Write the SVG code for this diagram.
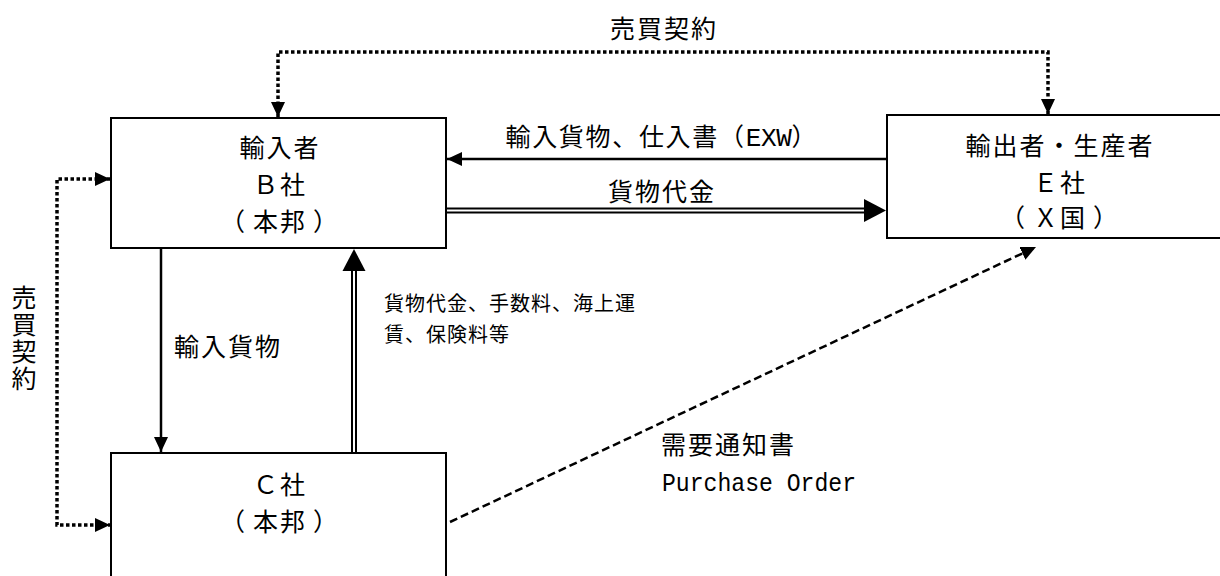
<svg xmlns="http://www.w3.org/2000/svg" width="1220" height="576" viewBox="0 0 1220 576">
<style>
.bg{fill:#fff}
.box{fill:#fff;stroke:#000;stroke-width:2}
.t{font-family:"Noto Sans CJK JP","Noto Sans CJK SC",sans-serif;font-size:25px;letter-spacing:2px;fill:#000}
.ts{font-size:20px;letter-spacing:1px}
.mono{font-family:"Liberation Mono",monospace;letter-spacing:0}
.solid{stroke:#000;stroke-width:2.5;fill:none}
.thin{stroke:#000;stroke-width:2;fill:none}
.dot{stroke:#000;stroke-width:3.5;stroke-dasharray:3.5 2.5;fill:none}
.dash{stroke:#000;stroke-width:2.5;stroke-dasharray:8 4;fill:none}
.head{fill:#000;stroke:none}
</style>
<defs>
<marker id="ah" markerUnits="userSpaceOnUse" viewBox="0 0 15 14" refX="15" refY="7" markerWidth="15" markerHeight="14" orient="auto-start-reverse">
<path d="M0,0 L15,7 L0,14 z" fill="#000"/>
</marker>
<path id="bigHead" d="M0,0 L-22,-11.5 L-22,11.5 z"/>
</defs>
<rect class="bg" x="0" y="0" width="1220" height="576"/>

<g id="connectors">
<path class="dot" d="M278,117 V52 H1048 V114" marker-start="url(#ah)" marker-end="url(#ah)"/>
<path class="dot" d="M110,179 H57 V525 H110" marker-start="url(#ah)" marker-end="url(#ah)"/>
<path class="solid" d="M887,159 H447" marker-end="url(#ah)"/>
<path class="thin" d="M447,208.5 H864 M447,212.5 H864"/>
<use class="head" href="#bigHead" x="886" y="210.5"/>
<path class="solid" d="M161,248 V452" marker-end="url(#ah)"/>
<path class="thin" d="M352,453 V270 M356,453 V270"/>
<use class="head" href="#bigHead" transform="translate(354,249) rotate(-90)"/>
<path class="dash" d="M450,522 L1036,247" marker-end="url(#ah)"/>
<text class="t" x="664" y="38" text-anchor="middle">売買契約</text>
<text class="t" x="25 25 25 25" y="307 334 361 388" text-anchor="middle">売買契約</text>
<text class="t" x="662" y="146" text-anchor="middle" textLength="313" lengthAdjust="spacing">輸入貨物、仕入書（<tspan class="mono" font-size="26">EXW</tspan>）</text>
<text class="t" x="662" y="201" text-anchor="middle">貨物代金</text>
<text class="t" x="228" y="356" text-anchor="middle">輸入貨物</text>
<text class="t ts" x="384" y="311">貨物代金、手数料、海上運</text>
<text class="t ts" x="384" y="342">賃、保険料等</text>
<text class="t" x="661" y="454">需要通知書</text>
<text class="t mono" x="662" y="491" font-size="28" textLength="194" lengthAdjust="spacingAndGlyphs">Purchase Order</text>
</g>

<g id="nodeB">
<rect class="box" x="111" y="118" width="335" height="130"/>
<text class="t" x="280" y="157" text-anchor="middle">輸入者</text>
<text class="t" x="280" y="194" text-anchor="middle">Ｂ社</text>
<text class="t" x="280" y="231" text-anchor="middle">（<tspan dx="6">本邦</tspan><tspan dx="6">）</tspan></text>
</g>

<g id="nodeE">
<rect class="box" x="887" y="115" width="345" height="123"/>
<text class="t" x="1060" y="155" text-anchor="middle">輸出者・生産者</text>
<text class="t" x="1060" y="192" text-anchor="middle">Ｅ社</text>
<text class="t" x="1060" y="227" text-anchor="middle">（<tspan dx="6">Ｘ国</tspan><tspan dx="6">）</tspan></text>
</g>

<g id="nodeC">
<rect class="box" x="111" y="453" width="335" height="140"/>
<text class="t" x="280" y="494" text-anchor="middle">Ｃ社</text>
<text class="t" x="280" y="531" text-anchor="middle">（<tspan dx="6">本邦</tspan><tspan dx="6">）</tspan></text>
</g>
</svg>
